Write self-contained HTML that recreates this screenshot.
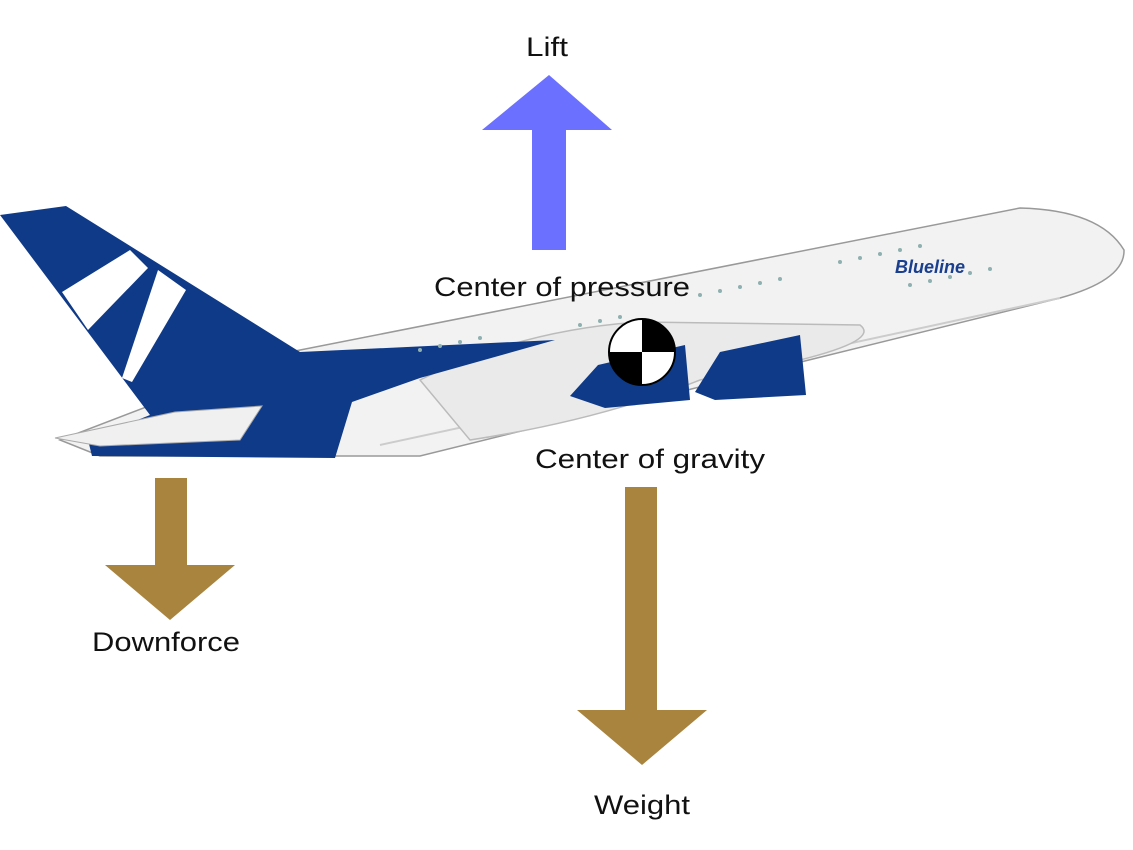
<!DOCTYPE html>
<html><head><style>body{margin:0;background:#fff}svg{display:block}text{font-family:"Liberation Sans",sans-serif;font-size:27px;fill:#111}</style></head>
<body>
<svg width="1133" height="850" viewBox="0 0 1133 850">
<!-- fuselage -->
<path d="M290,352 L1020,208 Q1100,210 1124,250 Q1125,280 1060,298 L420,456 L100,456 L60,440 Z" fill="#f2f2f2" stroke="#999" stroke-width="1.5"/>
<path d="M380,445 L1060,298" stroke="#ccc" stroke-width="2" fill="none"/>
<!-- wing outline -->
<path d="M420,380 Q520,330 640,322 L860,325 Q880,340 800,360 L700,380 Q600,420 470,440 Z" fill="#eaeaea" stroke="#bbb" stroke-width="1.5"/>
<!-- blue tail and belly -->
<path d="M0,215 L66,206 L300,352 L555,340 L420,378 L352,402 L335,458 L92,456 L88,440 L150,415 Z" fill="#0f3a88"/>
<polygon points="62,292 130,250 148,268 88,330" fill="#fff"/>
<polygon points="122,378 158,270 186,290 132,382" fill="#fff"/>
<!-- stabilizer -->
<polygon points="55,438 175,412 262,406 240,440 100,446" fill="#f0f0f0" stroke="#aaa" stroke-width="1"/>
<!-- windows -->
<g fill="#8fb0b0">
<circle cx="580" cy="325" r="2"/><circle cx="600" cy="321" r="2"/><circle cx="620" cy="317" r="2"/>
<circle cx="700" cy="295" r="2"/><circle cx="720" cy="291" r="2"/><circle cx="740" cy="287" r="2"/><circle cx="760" cy="283" r="2"/><circle cx="780" cy="279" r="2"/>
<circle cx="840" cy="262" r="2"/><circle cx="860" cy="258" r="2"/><circle cx="880" cy="254" r="2"/><circle cx="900" cy="250" r="2"/><circle cx="920" cy="246" r="2"/>
<circle cx="420" cy="350" r="2"/><circle cx="440" cy="346" r="2"/><circle cx="460" cy="342" r="2"/><circle cx="480" cy="338" r="2"/>
<circle cx="910" cy="285" r="2"/><circle cx="930" cy="281" r="2"/><circle cx="950" cy="277" r="2"/><circle cx="970" cy="273" r="2"/><circle cx="990" cy="269" r="2"/>
</g>
<text x="895" y="273" style="font-size:18px;font-weight:bold;fill:#1a3f8f;font-style:italic">Blueline</text>
<!-- engines -->
<path d="M570,396 L598,365 L685,345 L690,400 L605,408 Z" fill="#0f3a88"/>
<path d="M695,392 L720,352 L800,335 L806,395 L715,400 Z" fill="#0f3a88"/>
<!-- CG symbol -->
<circle cx="642" cy="352" r="33" fill="#fff" stroke="#000" stroke-width="2"/>
<path d="M642,352 L642,319 A33,33 0 0 1 675,352 Z" fill="#000"/>
<path d="M642,352 L642,385 A33,33 0 0 1 609,352 Z" fill="#000"/>
<!-- arrows -->
<polygon points="532,250 566,250 566,130 612,130 549,75 482,130 532,130" fill="#6b70ff"/>
<polygon points="155,478 187,478 187,565 235,565 170,620 105,565 155,565" fill="#a8843f"/>
<polygon points="625,487 657,487 657,710 707,710 642,765 577,710 625,710" fill="#a8843f"/>
<text x="526" y="56" textLength="42" lengthAdjust="spacingAndGlyphs">Lift</text>
<text x="434" y="296" textLength="256" lengthAdjust="spacingAndGlyphs">Center of pressure</text>
<text x="535" y="468" textLength="230" lengthAdjust="spacingAndGlyphs">Center of gravity</text>
<text x="92" y="651" textLength="148" lengthAdjust="spacingAndGlyphs">Downforce</text>
<text x="594" y="814" textLength="96" lengthAdjust="spacingAndGlyphs">Weight</text>
</svg>
</body></html>
